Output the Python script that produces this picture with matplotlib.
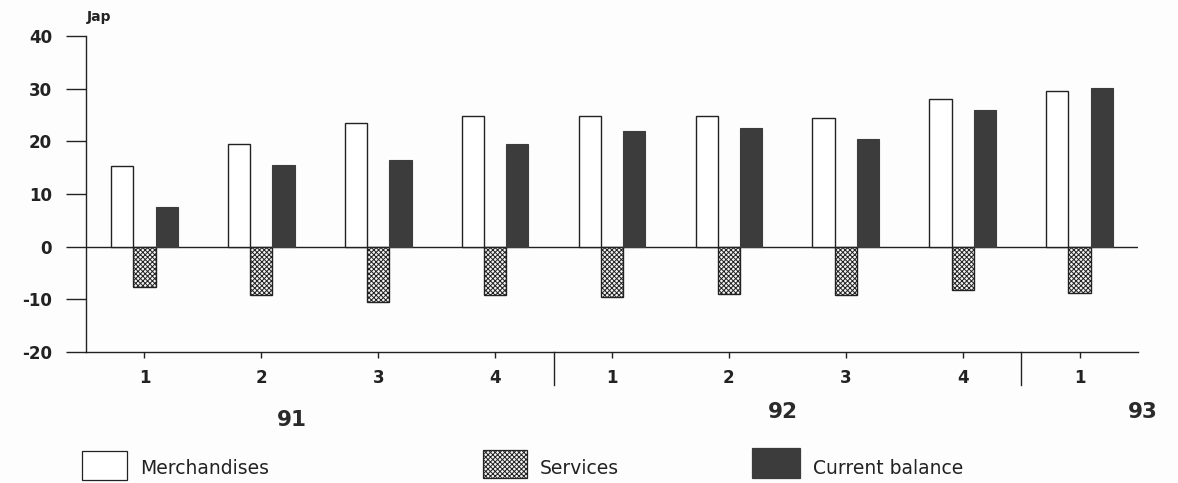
import matplotlib
matplotlib.use("Agg")
import matplotlib.pyplot as plt
import numpy as np
from matplotlib.patches import Rectangle

quarters = ["1", "2", "3", "4", "1", "2", "3", "4", "1"]
years = ["91", "92", "93"]
merchandises = [15.4, 19.5, 23.5, 24.9, 24.9, 24.9, 24.4, 28.1, 29.6]
services = [-7.6, -9.1, -10.6, -9.1, -9.5, -8.9, -9.1, -8.2, -8.8]
current_balance = [7.6, 15.6, 16.5, 19.4, 21.9, 22.6, 20.4, 26.0, 30.2]
series_names = ["Merchandises", "Services", "Current balance"]

W, H = 1178, 483
PX = 72 / 100  # points per pixel
fig = plt.figure(figsize=(W / 100, H / 100), dpi=100)
fig.patch.set_facecolor("#fdfdfd")
ax = fig.add_axes([86 / W, 1 - 352 / H, (1138 - 86) / W, (352 - 36) / H])
ax.set_facecolor("none")

x = np.arange(len(quarters))
bw = 0.19
dark = "#3c3c3c"
ink = "#222222"
plt.rcParams["hatch.linewidth"] = 0.7
plt.rcParams["hatch.color"] = "#2a2a2a"
HATCH = "xxxxxxx"

ax.bar(x - bw, merchandises, bw, color="white", edgecolor=ink, linewidth=1.0)
ax.bar(x, services, bw, color="#f4f4f4", edgecolor=ink, linewidth=1.0, hatch=HATCH)
ax.bar(x + bw, current_balance, bw, color=dark, edgecolor=dark, linewidth=0.8)

ax.set_xlim(-0.5, len(quarters) - 0.5)
ax.set_ylim(-20, 40)
ax.axhline(0, color=ink, linewidth=1.0, zorder=0.5)
for s in ["top", "right"]:
    ax.spines[s].set_visible(False)
for s in ["left", "bottom"]:
    ax.spines[s].set_linewidth(1.0)
    ax.spines[s].set_color(ink)

ax.set_yticks(np.arange(-20, 41, 10))
ax.set_yticklabels([str(v) for v in range(-20, 41, 10)],
                   fontsize=12, fontweight="bold", family="DejaVu Sans")
ax.tick_params(axis="y", direction="out", length=20 * PX, width=1.0,
               pad=14 * PX, colors=ink)

ax.set_xticks(x)
ax.set_xticklabels(quarters, fontsize=12, fontweight="bold", family="DejaVu Sans")
ax.tick_params(axis="x", direction="out", length=6 * PX, width=1.0,
               pad=11 * PX, colors=ink)

# year separators
trans = ax.get_xaxis_transform()
for sep in [3.5, 7.5]:
    ax.plot([sep, sep], [0, -33 / 316], transform=trans, color=ink,
            linewidth=1.0, clip_on=False)

# year labels
year_pos = [(292, 420), (783, 412), (1143, 412)]
for (px, py), yr in zip(year_pos, years):
    fig.text(px / W, 1 - py / H, yr, fontsize=15.5, fontweight="semibold",
             ha="center", va="center", family="DejaVu Sans", color="#2a2a2a")

# unit label
fig.text(87 / W, 1 - 17 / H, "Jap", fontsize=10, fontweight="bold", ha="left",
         va="center", family="DejaVu Sans", color=ink)

# legend
legend_items = [
    (82, 127, 451, 480, dict(facecolor="white", edgecolor=ink, hatch=None)),
    (483, 527, 450, 478, dict(facecolor="#f4f4f4", edgecolor=ink, hatch=HATCH)),
    (752, 800, 448, 478, dict(facecolor=dark, edgecolor=dark, hatch=None)),
]
text_x = [140, 540, 813]
for (x0, x1, y0, y1, style), tx, name in zip(legend_items, text_x, series_names):
    r = Rectangle((x0 / W, 1 - y1 / H), (x1 - x0) / W, (y1 - y0) / H,
                  transform=fig.transFigure, linewidth=0.9, **style)
    fig.patches.append(r)
    fig.text(tx / W, 1 - 469 / H, name, fontsize=13.5, ha="left", va="center",
             family="DejaVu Sans", color=ink)

fig.savefig("out.png", dpi=100, facecolor=fig.get_facecolor())
